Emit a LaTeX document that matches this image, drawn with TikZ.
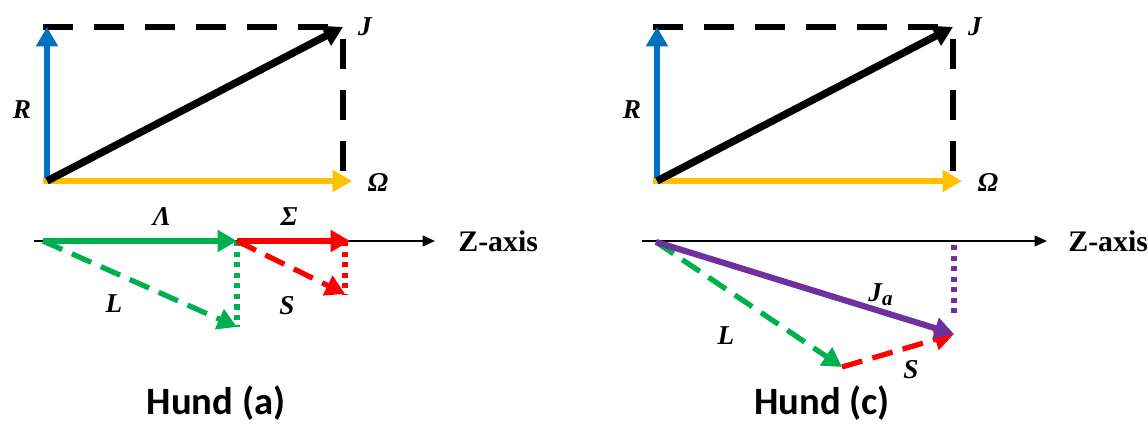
\documentclass[tikz,border=0pt]{standalone}
\usepackage{fontspec}
\setmainfont{Liberation Serif}
\newfontfamily\labelfont{Liberation Serif}
\newfontfamily\titlefont{Carlito}
\usetikzlibrary{arrows.meta,positioning}
\definecolor{vecblue}{RGB}{0,112,192}
\definecolor{vecyellow}{RGB}{255,192,0}
\definecolor{vecgreen}{RGB}{0,176,80}
\definecolor{vecred}{RGB}{255,0,0}
\definecolor{vecpurple}{RGB}{112,48,160}

\begin{document}
\begin{tikzpicture}[
    x=0.02cm, y=-0.02cm,
    vec/.style={line width=3.5pt, -{Triangle[length=11pt,width=12pt]}},
    projline/.style={line width=3pt, dash pattern=on 17pt off 12pt},
    compvec/.style={line width=3pt, dash pattern=on 12pt off 6pt, -{Triangle[length=11pt,width=12pt]}},
    dotline/.style={line width=3pt, dash pattern=on 3pt off 3pt},
    axisline/.style={line width=1.2pt, -{Triangle[length=7pt,width=6pt]}},
    lbl/.style={font=\labelfont\fontsize{15.5}{15.5}\selectfont\bfseries\itshape, inner sep=0pt},
    axlbl/.style={font=\labelfont\fontsize{17}{17}\selectfont\bfseries, inner sep=0pt},
    title/.style={font=\titlefont\fontsize{22}{22}\selectfont\bfseries, inner sep=0pt}
]
\useasboundingbox (0,0) rectangle (1148,428);

% Hund (a): top vectors
\coordinate (oa) at (47,181);
\coordinate (ra) at (47,27);
\coordinate (ja) at (343,27);
\coordinate (wa) at (352,181);
\draw[projline] (43,27) -- (ja);
\draw[projline, shorten <=7pt, shorten >=2pt] (ja) -- (ja |- wa);
\draw[vec, vecblue] (oa) -- (ra);
\draw[vec, vecyellow] (43,181) -- (wa);
\draw[vec, line width=4.2pt] (oa) -- (ja);
\node[lbl] (jla) at (365,27) {J};
\node[lbl] (rla) at (22,110) {R};
\node[lbl] (wla) at (378,182) {Ω};

% Hund (a): Z-axis projections
\coordinate (za) at (34,241);
\coordinate (zea) at (435,241);
\coordinate (la0) at (43,241);
\coordinate (lama) at (237,241);
\coordinate (sia) at (350,241);
\coordinate (la) at (237,327);
\coordinate (sa) at (345,294);
\draw[axisline] (za) -- (zea);
\node[axlbl, anchor=west, right=0.46cm of zea] (zla) {Z-axis};
\draw[dotline, vecgreen] (lama) -- (la);
\draw[dotline, vecred] (sa |- sia) -- (sa);
\draw[compvec, vecgreen] (la0) -- (la);
\draw[compvec, vecred] (lama) -- (sa);
\draw[vec, vecgreen] (la0) -- (lama);
\draw[vec, vecred] (lama) -- (sia);
\node[lbl] (lamla) at (162,217) {Λ};
\node[lbl] (sila) at (289,217) {Σ};
\node[lbl] (lla) at (114,304) {L};
\node[lbl] (sla) at (287,306) {S};
\node[title, anchor=base] (ta) at (216,414) {Hund (a)};

% Hund (c): top vectors
\coordinate (oc) at (657,181);
\coordinate (rc) at (657,27);
\coordinate (jc) at (953,27);
\coordinate (wc) at (962,181);
\draw[projline] (653,27) -- (jc);
\draw[projline, shorten <=7pt, shorten >=2pt] (jc) -- (jc |- wc);
\draw[vec, vecblue] (oc) -- (rc);
\draw[vec, vecyellow] (653,181) -- (wc);
\draw[vec, line width=4.2pt] (oc) -- (jc);
\node[lbl] (jlc) at (975,27) {J};
\node[lbl] (rlc) at (632,110) {R};
\node[lbl] (wlc) at (988,182) {Ω};

% Hund (c): Z-axis projections
\coordinate (zc) at (642,241);
\coordinate (zec) at (1047,241);
\coordinate (lc0) at (656,242);
\coordinate (jac) at (954,334);
\coordinate (jpc) at (954,245);
\coordinate (lc) at (842,367);
\draw[axisline] (zc) -- (zec);
\node[axlbl, anchor=west, right=0.42cm of zec] (zlc) {Z-axis};
\draw[dotline, vecpurple] (jpc) -- ([yshift=12pt]jac);
\draw[compvec, vecgreen] (lc0) -- (lc);
\draw[compvec, vecred] (lc) -- (jac);
\draw[vec, vecpurple] (lc0) -- (jac);
\node[lbl] (jalc) at (881,295) {J\textsubscript{\fontsize{12}{12}\selectfont a}};
\node[lbl] (llc) at (726,336) {L};
\node[lbl] (slc) at (911,370) {S};
\node[title, anchor=base] (tc) at (822,414) {Hund (c)};

\end{tikzpicture}
\end{document}
